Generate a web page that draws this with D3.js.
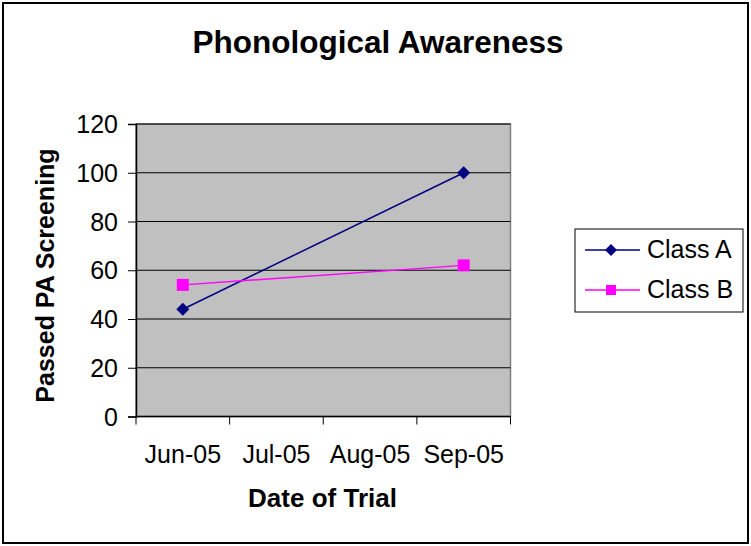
<!DOCTYPE html>
<html><head><meta charset="utf-8">
<script src="https://cdn.jsdelivr.net/npm/d3@7"></script>
<style>body{margin:0;background:#fff}svg{display:block;font-family:"Liberation Sans",Arial,sans-serif}</style>
</head><body><svg id="c" width="751" height="546"></svg>
<script>
const categories = ["Jun-05","Jul-05","Aug-05","Sep-05"];
const seriesNames = ["Class A","Class B"];
const classA = [{cat:"Jun-05",v:44},{cat:"Sep-05",v:100}];
const classB = [{cat:"Jun-05",v:54},{cat:"Sep-05",v:62}];
const yTicks = [0,20,40,60,80,100,120];
const colors = ["#000080","#FF00FF"];

const svg = d3.select("#c");
function txt(g,x,y,s,opts){
  const t = g.append("text").attr("transform",`translate(${x},${y}) scale(${opts.sx||1},1)`)
    .attr("font-size",opts.size||25).attr("text-anchor",opts.anchor||"start")
    .attr("fill","#000").text(s);
  if(opts.bold) t.attr("font-weight","bold");
  return t;
}
svg.append("rect").attr("x",3).attr("y",3).attr("width",745).attr("height",540)
  .attr("fill","#fff").attr("stroke","#000").attr("stroke-width",2);

const L=136,R=510.5,T=124,B=416.5;
const x = d3.scaleBand().domain(categories).range([L,R]);
const y = d3.scaleLinear().domain([0,120]).range([B,T]);

svg.append("rect").attr("x",L).attr("y",T).attr("width",R-L).attr("height",B-T)
  .attr("fill","#C0C0C0").attr("stroke","#808080").attr("stroke-width",1.5);

// gridlines
svg.append("g").selectAll("line").data(yTicks.filter(d=>d>0)).join("line")
  .attr("x1",L).attr("x2",R).attr("y1",d=>y(d)).attr("y2",d=>y(d))
  .attr("stroke","#000").attr("stroke-width",1);

// y axis
const ya = svg.append("g").attr("transform",`translate(${L},0)`)
  .call(d3.axisLeft(y).tickValues(yTicks).tickSize(8).tickFormat(""));
ya.select(".domain").attr("stroke","#000").attr("stroke-width",1.5);
yTicks.forEach(v=>txt(svg,118,y(v)+9,String(v),{anchor:"end"}));

// x axis with ticks between categories
const xa = svg.append("g").attr("transform",`translate(0,${B})`);
xa.append("line").attr("x1",L).attr("x2",R).attr("stroke","#000").attr("stroke-width",1.5);
const bounds = categories.map(c=>x(c)).concat([x(categories[categories.length-1])+x.bandwidth()]);
xa.selectAll("line.t").data(bounds).join("line").attr("class","t")
  .attr("x1",d=>d).attr("x2",d=>d).attr("y1",0).attr("y2",8).attr("stroke","#000");
categories.forEach(c=>txt(svg,x(c)+x.bandwidth()/2,B+46,c,{anchor:"middle"}));

const cx = d=>x(d.cat)+x.bandwidth()/2;
const line = d3.line().x(cx).y(d=>y(d.v));
const diamond = (g,px,py,s)=>g.append("path").attr("d",`M${px},${py-s}L${px+s},${py}L${px},${py+s}L${px-s},${py}Z`).attr("fill",colors[0]);
const square = (g,px,py,s)=>g.append("rect").attr("x",px-s).attr("y",py-s).attr("width",2*s).attr("height",2*s).attr("fill",colors[1]);

const gA = svg.append("g");
gA.append("path").datum(classA).attr("d",line).attr("fill","none").attr("stroke",colors[0]).attr("stroke-width",1.5);
classA.forEach(d=>diamond(gA,cx(d),y(d.v),6.5));
const gB = svg.append("g");
gB.append("path").datum(classB).attr("d",line).attr("fill","none").attr("stroke",colors[1]).attr("stroke-width",1.5);
classB.forEach(d=>square(gB,cx(d),y(d.v),6));

// titles
txt(svg,378,53,"Phonological Awareness",{anchor:"middle",size:31.5,bold:true});
txt(svg,322.5,507,"Date of Trial",{anchor:"middle",size:26,bold:true});
svg.append("text").attr("transform","translate(54,275.5) rotate(-90)").attr("text-anchor","middle")
  .attr("font-size",25).attr("font-weight","bold").text("Passed PA Screening");

// legend
const lg = svg.append("g");
lg.append("rect").attr("x",575).attr("y",229).attr("width",168).attr("height",83)
  .attr("fill","#fff").attr("stroke","#000").attr("stroke-width",1);
seriesNames.forEach((n,i)=>{
  const ly = 250+i*40;
  lg.append("line").attr("x1",585).attr("x2",640).attr("y1",ly).attr("y2",ly).attr("stroke",colors[i]).attr("stroke-width",1.5);
  if(i===0) diamond(lg,611,ly,6); else square(lg,611,ly,5);
  txt(lg,647,ly+8,n,{});
});
</script></body></html>
